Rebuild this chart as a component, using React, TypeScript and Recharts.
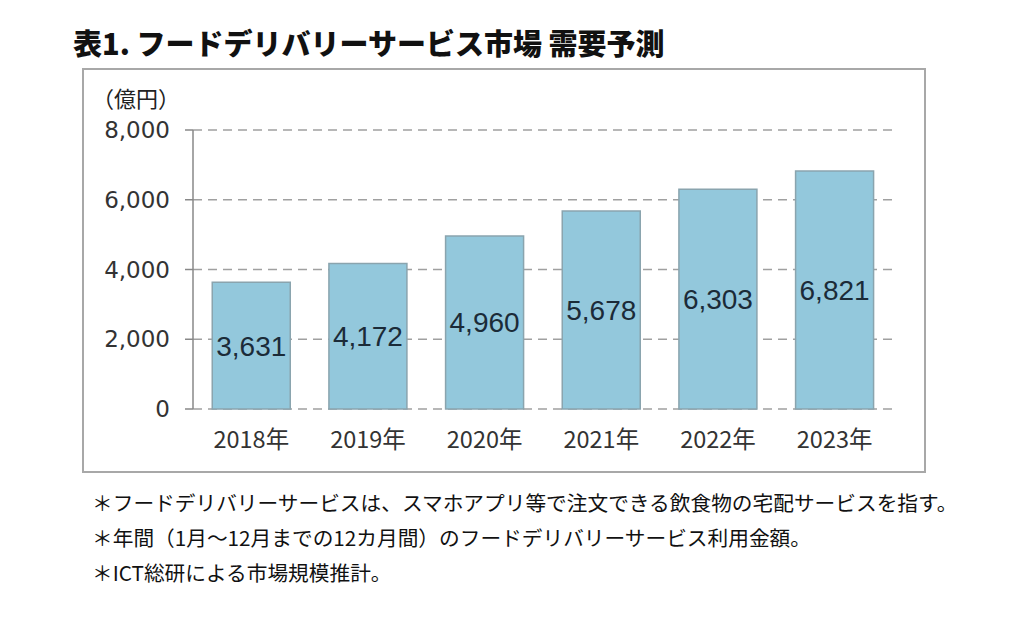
import { BarChart, Bar, XAxis, YAxis, CartesianGrid, LabelList } from 'recharts';

const years = ['2018年', '2019年', '2020年', '2021年', '2022年', '2023年'];
const marketSize = [3631, 4172, 4960, 5678, 6303, 6821];
const yTicks = [0, 2000, 4000, 6000, 8000];
const boundaryTicks = [0, 1, 2, 3, 4, 5, 6];

const notes = [
  '＊フードデリバリーサービスは、スマホアプリ等で注文できる飲食物の宅配サービスを指す。',
  '＊年間（1月～12月までの12カ月間）のフードデリバリーサービス利用金額。',
  '＊ICT総研による市場規模推計。',
];

const data = years.map((year, i) => ({ year, value: marketSize[i], idx: i + 0.5 }));

const jp = '"Noto Sans CJK JP", "Noto Sans", sans-serif';

export default function App() {
  return (
    <div style={{ position: 'absolute', left: 0, top: 0, width: 1024, height: 619, background: '#fff', fontFamily: jp }}>
      <div style={{ position: 'absolute', left: 73, top: 22, fontSize: 29, fontWeight: 900, color: '#111', lineHeight: '40px', whiteSpace: 'nowrap' }}>
        表1. フードデリバリーサービス市場 需要予測
      </div>
      {/* chart frame */}
      <div style={{ position: 'absolute', left: 82, top: 68, width: 840, height: 401, border: '2px solid #a8a8a8' }} />
      <div style={{ position: 'absolute', left: 92, top: 83, fontSize: 22, color: '#222', lineHeight: '28px' }}>（億円）</div>
      <div style={{ position: 'absolute', left: 0, top: 0 }}>
        <BarChart
          width={1024}
          height={619}
          data={data}
          margin={{ top: 130, right: 131, bottom: 170, left: 83 }}
          barCategoryGap="16.5%"
        >
          <CartesianGrid vertical={false} stroke="#a0a0a0" strokeDasharray="9 6" strokeWidth={1.5} />
          <XAxis
            xAxisId="b"
            type="number"
            dataKey="idx"
            domain={[0, 6]}
            ticks={boundaryTicks}
            tick={false}
            height={0}
            tickSize={8}
            stroke="#888"
            strokeWidth={1.5}
            allowDataOverflow
          />
          <XAxis
            dataKey="year"
            height={40}
            axisLine={false}
            tickLine={false}
            tickSize={0}
            tickMargin={22}
            tick={{ fontSize: 23.5, fill: '#333', fontFamily: jp }}
            interval={0}
          />
          <YAxis
            width={110}
            domain={[0, 8000]}
            ticks={yTicks}
            tickFormatter={(v: number) => v.toLocaleString('en-US')}
            tickSize={8}
            tickMargin={15}
            stroke="#888"
            strokeWidth={1.5}
            tick={{ fontSize: 23, fill: '#333', fontFamily: '"DejaVu Sans", sans-serif' }}
          />
          <Bar dataKey="value" fill="#93c8dc" stroke="#8aa4ae" strokeWidth={1.5} isAnimationActive={false}>
            <LabelList
              dataKey="value"
              position="center"
              formatter={(v: number) => v.toLocaleString('en-US')}
              style={{ fontSize: 28, fill: '#1b2b38', fontFamily: '"Liberation Sans", Arial, sans-serif' }}
            />
          </Bar>
        </BarChart>
      </div>
      {notes.map((n, i) => (
        <div
          key={i}
          style={{ position: 'absolute', left: 92, top: 489 + i * 35, fontSize: 20.7, color: '#111', lineHeight: '26px', whiteSpace: 'nowrap' }}
        >
          {n}
        </div>
      ))}
    </div>
  );
}
